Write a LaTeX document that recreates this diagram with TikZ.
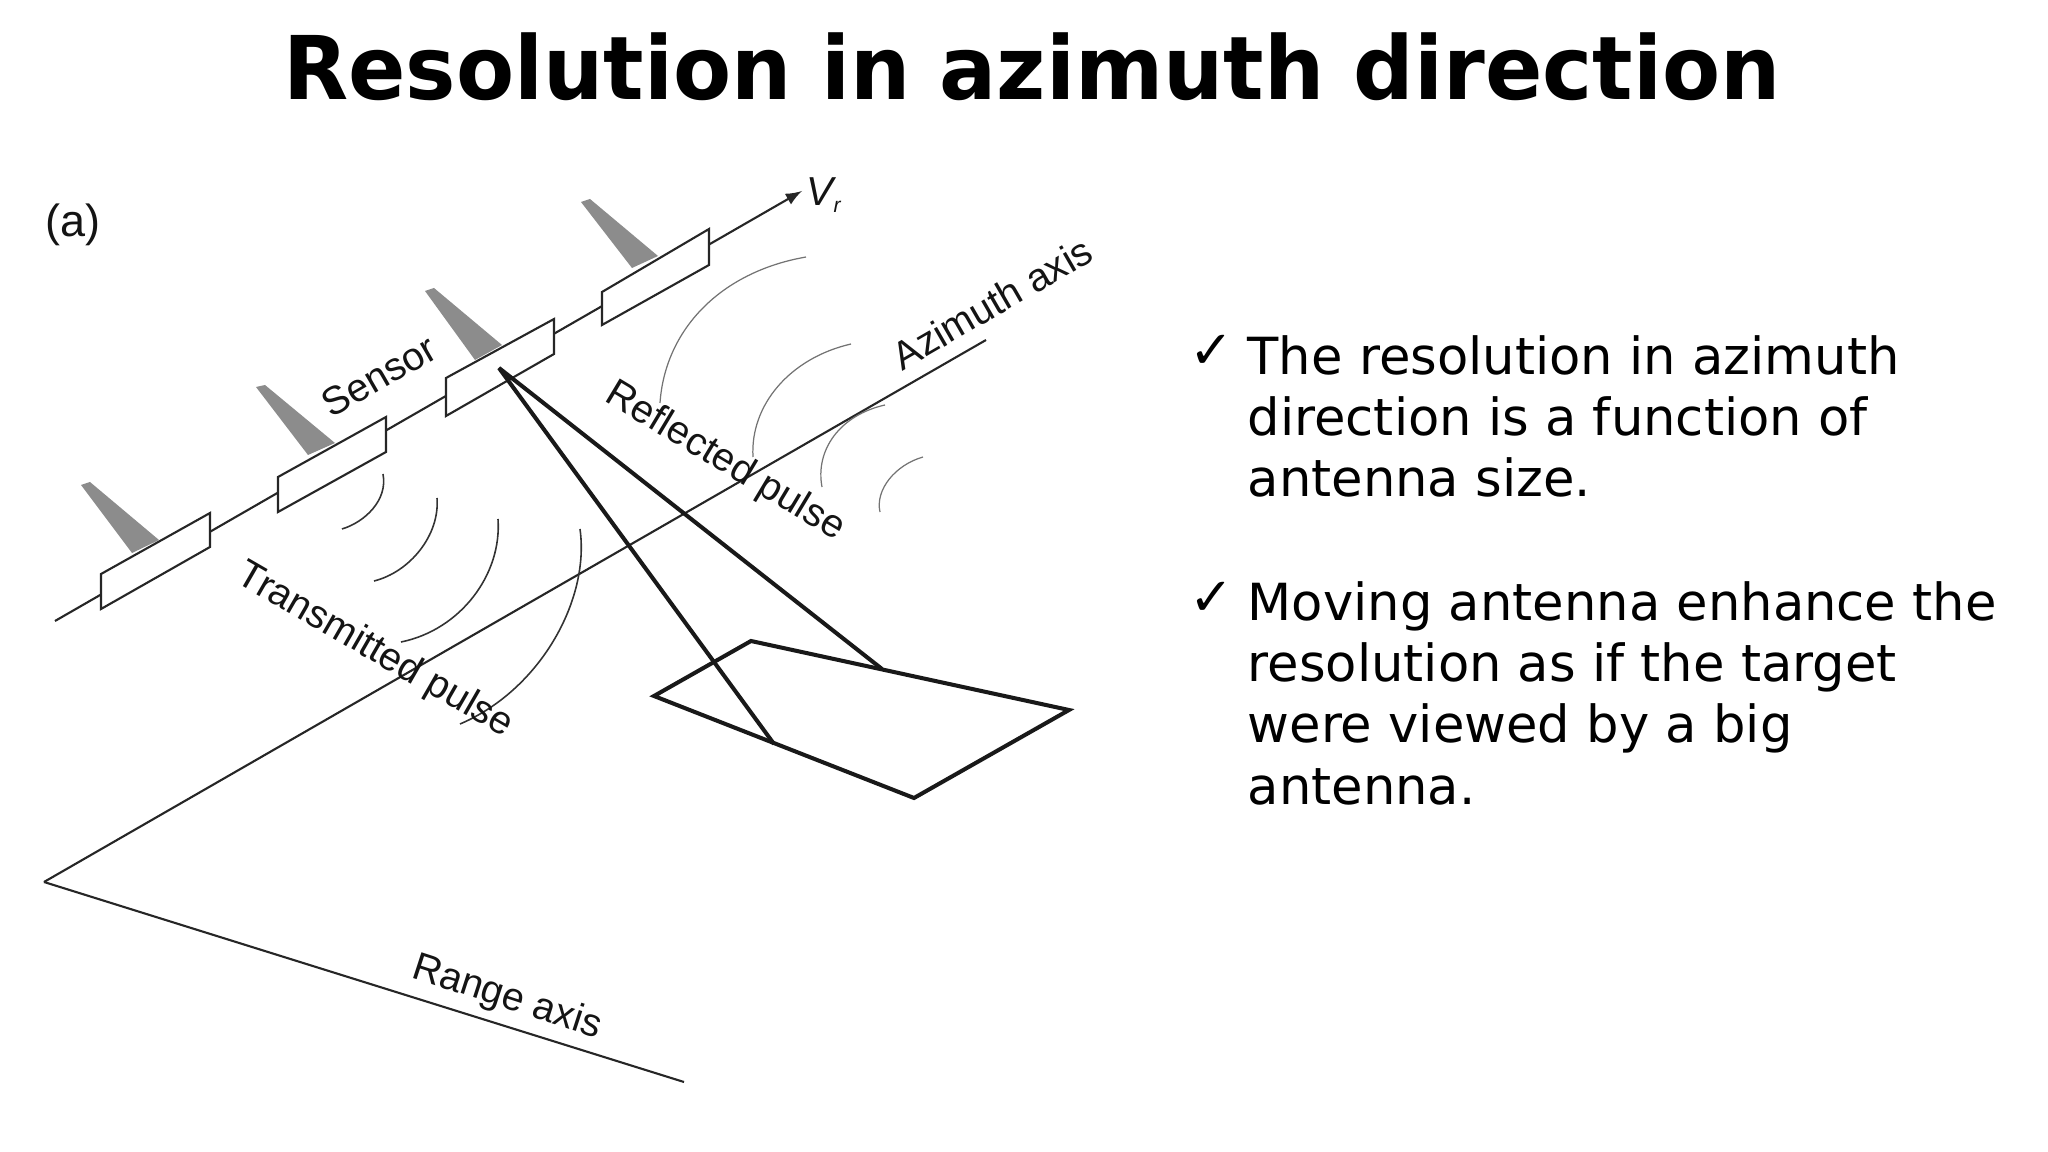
\documentclass[tikz,border=0pt]{standalone}
\usepackage{fontspec}
\setmainfont{DejaVu Sans}
\newfontfamily\figfont{Liberation Sans}
\newfontfamily\titlefont[FakeStretch=0.963]{DejaVu Sans Bold}
\usetikzlibrary{arrows}
\tikzset{
  axisline/.style={line width=0.6pt,black!85},
  antenna/.style={line width=0.6pt,black!85,fill=white},
  wedge/.style={fill=black!45,draw=none},
  beam/.style={line width=1.15pt,black!90,line join=miter},
  txwave/.style={line width=0.45pt,black!80},
  rxwave/.style={line width=0.35pt,black!55},
  figlabel/.style={font=\figfont\fontsize{11.2}{13}\selectfont,black!92,inner sep=0pt},
  bodytext/.style={font=\fontsize{14.55}{17.4}\selectfont,anchor=base west,align=left,inner sep=0pt},
  tick/.style={font=\fontsize{15}{18}\selectfont,inner sep=0pt}
}
\begin{document}
\begin{tikzpicture}[x=0.01cm,y=-0.01cm]
\useasboundingbox (0,0) rectangle (2048,1152);
%%Title
\node (title) [font=\titlefont\fontsize{25}{30}\selectfont,anchor=base,inner sep=0pt] at (1032,100) {Resolution in azimuth direction};

%%Location
\coordinate (origin) at (44,882);
\coordinate (azimuthend) at (986,340);
\coordinate (rangeend) at (684,1082);
\coordinate (pathstart) at (55,621);
\coordinate (pathend) at (802,191);
\coordinate (apex) at (499,368);
\coordinate (nearfoot) at (774,744);
\coordinate (farfoot) at (882,669);

%%Axes
\draw [axisline] (origin)--(azimuthend);
\draw [axisline] (origin)--(rangeend);
\draw [axisline,-latex] (pathstart)--(pathend);

%%Wedges
\fill [wedge] (81,485)--(90,482)--(159,540)--(132,553)--cycle;
\fill [wedge] (256,387)--(265,385)--(335,443)--(308,455)--cycle;
\fill [wedge] (425,291)--(434,288)--(502,345)--(475,360)--cycle;
\fill [wedge] (581,202)--(590,199)--(658,256)--(632,268)--cycle;

%%Sensor
\draw [antenna] (101,574)--(210,513)--(210,547)--(101,609)--cycle;
\draw [antenna] (278,477)--(386,417)--(386,452)--(278,512)--cycle;
\draw [antenna] (446,378)--(554,319)--(554,354)--(446,416)--cycle;
\draw [antenna] (602,292)--(709,229)--(709,265)--(602,325)--cycle;

%%Transmitted
\draw [txwave] (383,474) .. controls (388,500) and (365,522) .. (342,529);
\draw [txwave] (437,498) .. controls (440,535) and (410,572) .. (374,581);
\draw [txwave] (498,519) .. controls (502,575) and (460,630) .. (401,642);
\draw [txwave] (580,529) .. controls (590,600) and (540,690) .. (460,724);

%%Reflected
\draw [rxwave] (660,403) .. controls (665,330) and (720,272) .. (806,257);
\draw [rxwave] (753,457) .. controls (750,405) and (790,358) .. (851,344);
\draw [rxwave] (822,487) .. controls (815,450) and (840,415) .. (885,405);
\draw [rxwave] (880,512) .. controls (875,490) and (895,465) .. (923,457);

%%Footprint
\draw [beam] (751,641)--(1069,710)--(914,798)--(654,696)--cycle;
\draw [beam,line join=bevel] (nearfoot)--(apex)--(farfoot);

%%Label
\node (panel) [figlabel,font=\figfont\fontsize{12.8}{15}\selectfont] at (73,225) {(a)};
\node (speed) [figlabel,font=\figfont\itshape\fontsize{11.5}{13}\selectfont,anchor=west] at (806,195) {V\raisebox{-2pt}{\fontsize{6}{7}\selectfont r}};
\node (sensorlabel) [figlabel,rotate=30] at (379,376) {Sensor};
\node (azimuthlabel) [figlabel,rotate=30] at (992,303) {Azimuth axis};
\node (reflectedlabel) [figlabel,rotate=-31] at (725,462) {Reflected pulse};
\node (transmittedlabel) [figlabel,rotate=-30] at (375,651) {Transmitted pulse};
\node (rangelabel) [figlabel,rotate=-18] at (507,998) {Range axis};

%%Text
\node (tickone) [tick] at (1212,352) {✓};
\node (ticktwo) [tick] at (1212,599) {✓};
\node (pointone) [bodytext] at (1247,497) {The resolution in azimuth\\direction is a function of\\antenna size.};
\node (pointtwo) [bodytext] at (1247,804) {Moving antenna enhance the\\resolution as if the target\\were viewed by a big\\antenna.};
\end{tikzpicture}
\end{document}
